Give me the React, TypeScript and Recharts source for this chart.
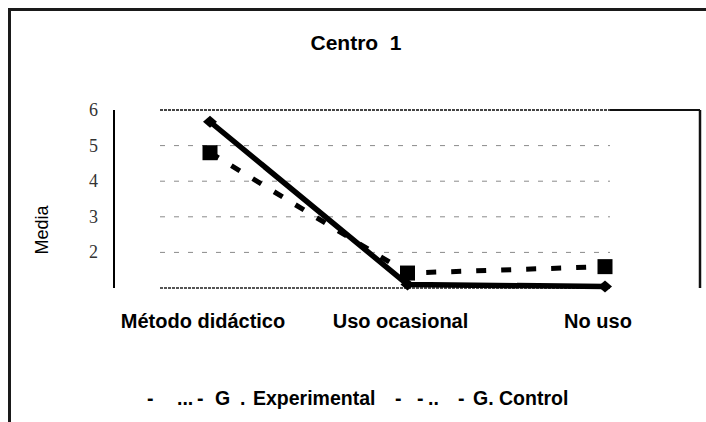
import React from 'react';
import { LineChart, Line, XAxis, YAxis, ReferenceLine } from 'recharts';

const categories = ['Método didáctico', 'Uso ocasional', 'No uso'];
const experimental = [5.67, 1.1, 1.04];
const control = [4.8, 1.42, 1.6];
const yTicks = [1, 2, 3, 4, 5, 6];
const gridValues = [2, 3, 4, 5];

const data = categories.map((c, i) => ({ cat: c, exp: experimental[i], ctrl: control[i] }));

const CHART_W = 695;
const CHART_H = 411;
const MARGIN = { top: 99, right: 6, bottom: 94, left: 0 };
const X_AXIS_H = 40;
const PLOT_H = CHART_H - MARGIN.top - MARGIN.bottom - X_AXIS_H;

const PAD_LEFT = 96;
const PAD_RIGHT = 95;
const GRID_LEFT_GAP = 46;
const GRID_RIGHT_GAP = 90;

const SquareDot = (props: any) => {
  const { cx, cy, index } = props;
  if (cx == null || cy == null) return <g key={`sq-${index}`} />;
  return <rect key={`sq-${index}`} x={cx - 7.5} y={cy - 7.5} width={15} height={15} fill="#000" />;
};

const DiamondDot = (props: any) => {
  const { cx, cy, index } = props;
  if (cx == null || cy == null) return <g key={`dm-${index}`} />;
  const pts = `${cx - 7},${cy} ${cx},${cy - 6} ${cx + 7},${cy} ${cx},${cy + 6}`;
  return <polygon key={`dm-${index}`} points={pts} fill="#000" />;
};

const YTick = (props: any) => {
  const { x, y, payload } = props;
  if (!payload || payload.value === 1) return <g />;
  return (
    <text
      x={x}
      y={y}
      dy={6}
      textAnchor="end"
      style={{ fontFamily: "'Liberation Serif', 'DejaVu Serif', serif" }}
      fontSize={18}
      fill="#333"
    >
      {String(payload.value)}
    </text>
  );
};

const XTick = (props: any) => {
  const { x, y, payload } = props;
  return (
    <text
      x={x - 7}
      y={y}
      dy={14}
      textAnchor="middle"
      fontFamily="Liberation Sans"
      fontWeight="bold"
      fontSize={20}
      fill="#000"
    >
      {payload.value}
    </text>
  );
};

const dashedGrid = (p: any) => (
  <line
    x1={p.x1 + GRID_LEFT_GAP}
    x2={p.x2 - GRID_RIGHT_GAP}
    y1={p.y1}
    y2={p.y2}
    stroke="#8a8a8a"
    strokeWidth={1}
    strokeDasharray="5 9"
  />
);

const topGrid = (p: any) => (
  <g>
    <line x1={p.x1 + GRID_LEFT_GAP} x2={p.x2 - GRID_RIGHT_GAP} y1={p.y1} y2={p.y2} stroke="#444" strokeWidth={2} strokeDasharray="3 1" />
    <line x1={p.x2 - GRID_RIGHT_GAP} x2={p.x2} y1={p.y1} y2={p.y2} stroke="#111" strokeWidth={2} />
    <line x1={p.x2} x2={p.x2} y1={p.y1} y2={p.y1 + PLOT_H} stroke="#111" strokeWidth={2.5} />
  </g>
);

const bottomGrid = (p: any) => (
  <line x1={p.x1 + GRID_LEFT_GAP} x2={p.x2 - GRID_RIGHT_GAP} y1={p.y1} y2={p.y2} stroke="#555" strokeWidth={2} strokeDasharray="3 1" />
);

export default function App() {
  return (
    <div
      style={{
        position: 'fixed',
        left: 8,
        top: 8,
        width: 698,
        height: 414,
        boxSizing: 'border-box',
        borderTop: '3px solid #1a1a1a',
        borderLeft: '3px solid #1a1a1a',
        background: '#fff',
        overflow: 'visible',
      }}
    >
      <div style={{ position: 'absolute', left: 0, top: 0 }}>
        <LineChart width={CHART_W} height={CHART_H} data={data} margin={MARGIN} style={{ overflow: 'visible' }}>
          <XAxis
            dataKey="cat"
            scale="point"
            padding={{ left: PAD_LEFT, right: PAD_RIGHT }}
            height={X_AXIS_H}
            axisLine={false}
            tickLine={false}
            tickSize={0}
            tickMargin={26}
            interval={0}
            tick={<XTick />}
          />
          <YAxis
            width={103}
            domain={[1, 6]}
            ticks={yTicks}
            interval={0}
            axisLine={{ stroke: '#000', strokeWidth: 2 }}
            tickLine={false}
            tickSize={0}
            tickMargin={16}
            tick={<YTick />}
          />
          {gridValues.map((v) => (
            <ReferenceLine key={`g-${v}`} y={v} shape={dashedGrid} />
          ))}
          <ReferenceLine y={6} shape={topGrid} />
          <ReferenceLine y={1} shape={bottomGrid} />
          <Line
            dataKey="ctrl"
            type="linear"
            stroke="#000"
            strokeWidth={5}
            strokeDasharray="10 15"
            dot={SquareDot}
            activeDot={false}
            isAnimationActive={false}
          />
          <Line
            dataKey="exp"
            type="linear"
            stroke="#000"
            strokeWidth={5.5}
            dot={DiamondDot}
            activeDot={false}
            isAnimationActive={false}
          />
        </LineChart>
      </div>
      <svg
        width={695}
        height={411}
        style={{ position: 'absolute', left: 0, top: 0, pointerEvents: 'none', overflow: 'visible' }}
      >
        <text
          x={345}
          y={39}
          textAnchor="middle"
          fontFamily="Liberation Sans"
          fontWeight="bold"
          fontSize={21}
          fill="#000"
          style={{ whiteSpace: 'pre' }}
        >
          {'Centro  1'}
        </text>
        <text
          x={31}
          y={219}
          textAnchor="middle"
          dominantBaseline="central"
          transform="rotate(-90 31 219)"
          fontFamily="Liberation Sans"
          fontSize={18}
          fill="#000"
        >
          Media
        </text>
        <text y={394} fontFamily="Liberation Sans" fontWeight="bold" fontSize={19.5} fill="#000">
          <tspan x={136}>-</tspan>
          <tspan x={166}>...</tspan>
          <tspan x={186}>-</tspan>
          <tspan x={204}>G</tspan>
          <tspan x={229}>.</tspan>
          <tspan x={242}>Experimental</tspan>
          <tspan x={384}>-</tspan>
          <tspan x={406}>-</tspan>
          <tspan x={417}>..</tspan>
          <tspan x={447}>-</tspan>
          <tspan x={462}>G. Control</tspan>
        </text>
      </svg>
    </div>
  );
}
